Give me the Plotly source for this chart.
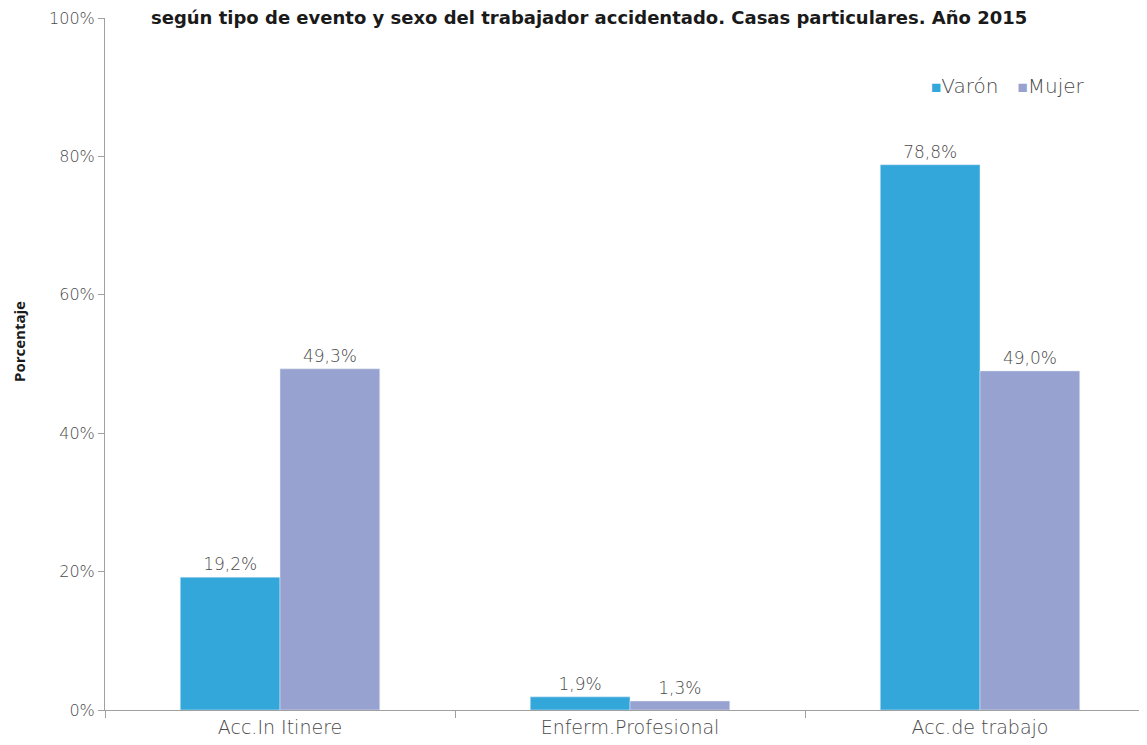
import plotly.graph_objects as go

categories = ["Acc.In Itinere", "Enferm.Profesional", "Acc.de trabajo"]
varon = [19.2, 1.9, 78.8]
mujer = [49.3, 1.3, 49.0]
y_ticks = [0, 20, 40, 60, 80, 100]
y_tick_labels = ["0%", "20%", "40%", "60%", "80%", "100%"]
colors = {"Varón": "#33a7da", "Mujer": "#98a2d0"}

def fmt(v):
    return f"{v:.1f}%".replace(".", ",")

LIGHT = "DejaVu Sans, sans-serif"
TXT = "#4a4a4a"
label_font = dict(family=LIGHT, size=17, color=TXT, weight=200)

fig = go.Figure()
fig.add_trace(go.Bar(name="Varón", x=categories, y=varon, marker_color=colors["Varón"],
                     text=[fmt(v) for v in varon], textposition="outside",
                     textfont=label_font, cliponaxis=False))
fig.add_trace(go.Bar(name="Mujer", x=categories, y=mujer, marker_color=colors["Mujer"],
                     text=[fmt(v) for v in mujer], textposition="outside",
                     textfont=label_font, cliponaxis=False))

# page is offset by the 8px body margin; figure coords = page coords - 8
L, T, B = 97, 10, 43
PW, PH = 1147 - L, 745 - T - B

def px(xp):
    return (xp - 8 - L) / PW

def py(yp):
    return (745 - B - (yp - 8)) / PH

def sq(c):
    return f"<span style='color:{c};font-size:17px'>■</span>"

legend_text = f"{sq(colors['Varón'])}Varón   {sq(colors['Mujer'])}Mujer"

fig.update_layout(
    width=1147, height=745,
    margin=dict(l=L, r=0, t=T, b=B),
    paper_bgcolor="white", plot_bgcolor="white",
    barmode="group", bargap=0.43, bargroupgap=0,
    showlegend=False,
    annotations=[
        dict(text="<b>según tipo de evento y sexo del trabajador accidentado. Casas particulares. Año 2015</b>",
             x=px(589), xref="paper", y=py(17), yref="paper", yanchor="middle", showarrow=False,
             font=dict(family="DejaVu Sans, sans-serif", size=18, color="#1a1a1a")),
        dict(text=legend_text, x=px(929), xref="paper", xanchor="left",
             y=py(86), yref="paper", yanchor="middle", showarrow=False,
             font=dict(family=LIGHT, size=20, color=TXT, weight=200)),
        dict(text="<b>Porcentaje</b>", textangle=-90, x=px(19), xref="paper",
             xanchor="center", y=py(342), yref="paper", yanchor="middle",
             showarrow=False, font=dict(family="Open Sans, sans-serif", size=15, color="#1a1a1a")),
    ],
)
fig.update_xaxes(range=[-0.5, 2.5], showline=True, linecolor="#a0a0a0", linewidth=1,
                 ticks="outside", tickson="boundaries", ticklen=7, tickcolor="#a0a0a0",
                 tickfont=dict(family=LIGHT, size=19, color=TXT, weight=200),
                 showgrid=False, automargin=False)
fig.update_yaxes(range=[0, 100], tickvals=y_ticks, ticktext=y_tick_labels,
                 showline=True, linecolor="#a0a0a0", linewidth=1,
                 ticks="outside", ticklen=6, tickcolor="#a0a0a0",
                 tickfont=dict(family=LIGHT, size=16, color=TXT, weight=200),
                 showgrid=False, zeroline=False, automargin=False)

fig.write_html("out.html")
